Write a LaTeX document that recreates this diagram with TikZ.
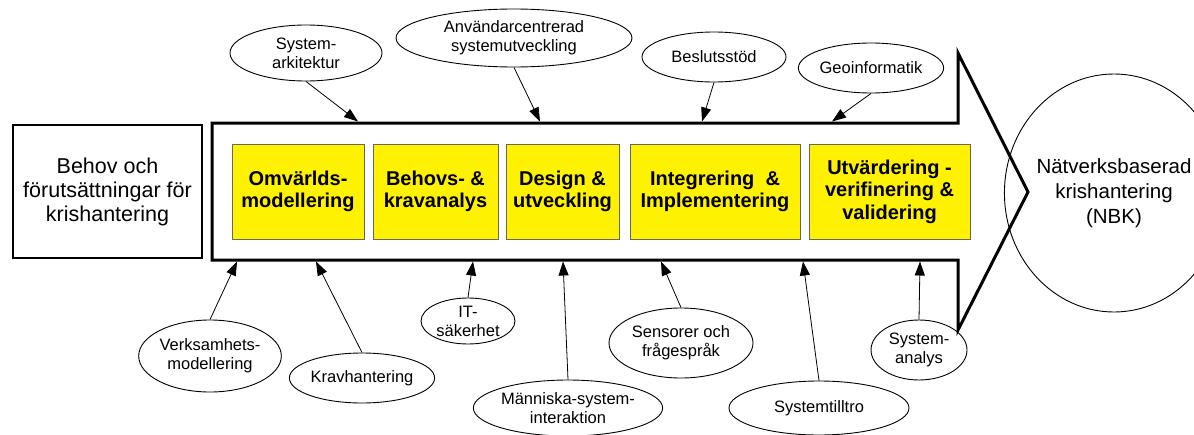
\documentclass[tikz,border=0pt]{standalone}
\usepackage{fontspec}
\setmainfont{Liberation Sans}
\usetikzlibrary{shapes.geometric,arrows.meta}

\begin{document}
\begin{tikzpicture}[x=1pt,y=-1pt,
  bubble/.style={draw, ellipse, line width=0.9pt, inner sep=0pt, align=center,
    font=\fontsize{16.5}{19}\selectfont},
  phase/.style={draw=black!60, fill=yellow, line width=1pt, inner sep=0pt,
    minimum height=95pt, align=center, font=\bfseries\fontsize{20}{22.5}\selectfont},
  feed/.style={line width=0.8pt, -{Triangle[length=14pt,width=10pt]}},
  flow/.style={line width=3pt, line join=miter, fill=white},
]
\useasboundingbox (0,0) rectangle (1194,434);

% starting point
\node[draw, line width=1.3pt, minimum width=189pt, minimum height=133pt, inner sep=0pt,
  align=center, font=\fontsize{21.5}{24}\selectfont]
  (need) at (107.5,191.5) {Behov och\\förutsättningar för\\krishantering};

% the process arrow
\draw[flow] (212,123) -- (958,123) -- (958,53) -- (1028,192) -- (958,330)
  -- (958,260) -- (212,260) -- cycle;

% phases inside the arrow
\node[phase, minimum width=132pt] (p1) at (298,191.5) {Omvärlds-\\modellering};
\node[phase, minimum width=125pt] (p2) at (435.5,191.5) {Behovs- \&\\kravanalys};
\node[phase, minimum width=113pt] (p3) at (562.5,191.5) {Design \&\\utveckling};
\node[phase, minimum width=170pt] (p4) at (715,191.5) {Integrering~ \&\\Implementering};
\node[phase, minimum width=161pt] (p5) at (889.5,191.5) {Utvärdering -\\verifinering \&\\validering};

% goal
\node[draw, ellipse, line width=0.9pt, minimum width=158pt, minimum height=238pt, inner sep=0pt,
  align=center, font=\fontsize{20.5}{25}\selectfont]
  (nbk) at (1114,193) {Nätverksbaserad\\krishantering\\(NBK)};

% supporting areas above
\node[bubble, minimum width=152pt, minimum height=56pt] (sa) at (306,53) {System-\\arkitektur};
\node[bubble, minimum width=236pt, minimum height=58pt] (ac) at (514,38) {Användarcentrerad\\systemutveckling};
\node[bubble, minimum width=144pt, minimum height=50pt] (bs) at (714,57) {Beslutsstöd};
\node[bubble, minimum width=144pt, minimum height=50pt] (gi) at (871,68) {Geoinformatik};

% supporting areas below
\node[bubble, minimum width=140pt, minimum height=72pt] (vm) at (210,356) {Verksamhets-\\modellering};
\node[bubble, minimum width=136pt, minimum height=50pt] (kh) at (362,378) {Kravhantering};
\node[bubble, minimum width=94pt, minimum height=46pt] (it) at (468,321) {IT-\\säkerhet};
\node[bubble, minimum width=184pt, minimum height=56pt] (ms) at (568,408) {Människa-system-\\interaktion};
\node[bubble, minimum width=144pt, minimum height=70pt] (so) at (681,343) {Sensorer och\\frågespråk};
\node[bubble, minimum width=180pt, minimum height=54pt] (st) at (819,408) {Systemtilltro};
\node[bubble, minimum width=96pt, minimum height=60pt] (an) at (919,350) {System-\\analys};

% where the contributions meet the arrow
\coordinate (t1) at (358,121.5);
\coordinate (t2) at (540,121.5);
\coordinate (t3) at (702,121.5);
\coordinate (t4) at (832,121.5);
\coordinate (b1) at (237,261.5);
\coordinate (b2) at (316,261.5);
\coordinate (b3) at (473,261.5);
\coordinate (b4) at (563,261.5);
\coordinate (b5) at (661,261.5);
\coordinate (b6) at (803,261.5);
\coordinate (b7) at (920,261.5);

\draw[feed] (sa.south) -- (t1);
\draw[feed] (ac.south) -- (t2);
\draw[feed] (bs.south) -- (t3);
\draw[feed] (gi.south) -- (t4);
\draw[feed] (vm.north) -- (b1);
\draw[feed] (kh.north) -- (b2);
\draw[feed] (it.north) -- (b3);
\draw[feed] (ms.north) -- (b4);
\draw[feed] (so.north) -- (b5);
\draw[feed] (st.north) -- (b6);
\draw[feed] (an.north) -- (b7);
\end{tikzpicture}
\end{document}
